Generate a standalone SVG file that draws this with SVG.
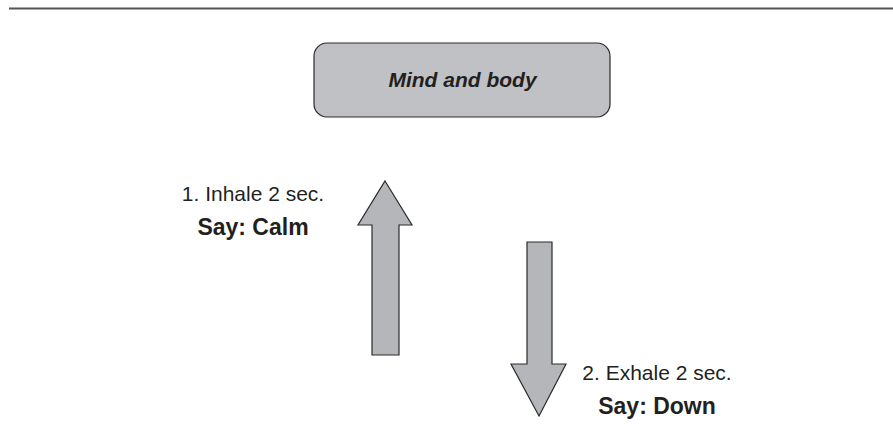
<svg xmlns="http://www.w3.org/2000/svg" width="893" height="443" viewBox="0 0 893 443">
<style>
.box{fill:#c0c1c5;stroke:#2a2a2a;stroke-width:1.2}
.arr{fill:#b5b6ba;stroke:#2a2a2a;stroke-width:1.2;stroke-linejoin:miter}
.t{font-family:"Liberation Sans",Arial,sans-serif;fill:#231f20;text-anchor:middle}
.reg{font-size:21px}
.bold{font-size:23px;font-weight:bold}
.title{font-size:21px;font-weight:bold;font-style:italic}
</style>
<rect width="893" height="443" fill="#ffffff"/>
<line x1="9" y1="8.5" x2="893" y2="8.5" stroke="#555555" stroke-width="2"/>
<g id="mind-body">
<rect class="box" x="314" y="43" width="296" height="74" rx="13" ry="13"/>
<text class="t title" x="462.5" y="87">Mind and body</text>
</g>
<g id="connectors">
<path id="inhale-arrow" class="arr" d="M385,181 L412,225 L399,225 L399,355 L372,355 L372,225 L358,225 Z"/>
<path id="exhale-arrow" class="arr" d="M527,242 L552,242 L552,364 L566,364 L539,416 L511,364 L527,364 Z"/>
</g>
<g id="inhale-label">
<text class="t reg" x="253" y="201">1. Inhale 2 sec.</text>
<text class="t bold" x="253" y="235">Say: Calm</text>
</g>
<g id="exhale-label">
<text class="t reg" x="657" y="380">2. Exhale 2 sec.</text>
<text class="t bold" x="657" y="414">Say: Down</text>
</g>
</svg>
